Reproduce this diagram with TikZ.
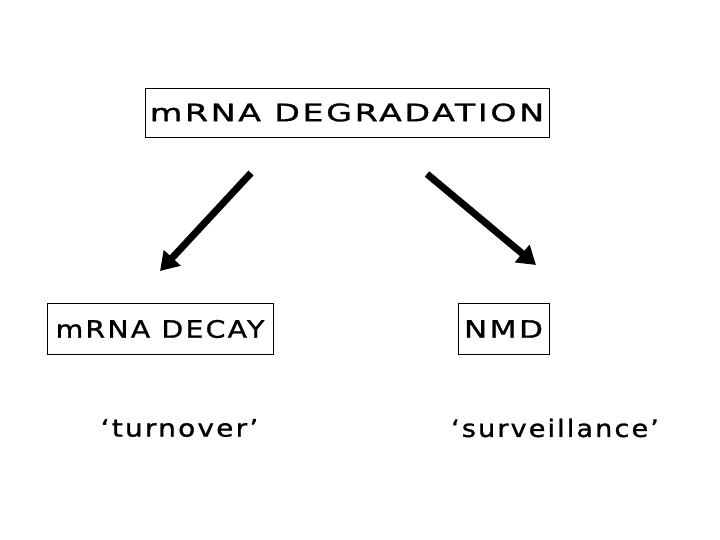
\documentclass[tikz,border=0pt]{standalone}
\usepackage{fontspec}
\setmainfont{DejaVu Sans}[FakeStretch=1.3,LetterSpace=10,FakeBold=1.2]
\usetikzlibrary{arrows.meta}
\newcommand{\xs}[2]{\scalebox{#1}[1]{#2}}
\begin{document}
\begin{tikzpicture}[x=1pt,y=-1pt,
  box/.style={draw,line width=0.8pt,inner sep=0pt,font=\fontsize{24}{28}\selectfont},
  lbl/.style={font=\fontsize{24}{28}\selectfont},
  arr/.style={line width=7pt,-{Triangle[width=22pt,length=18pt]}}]
\useasboundingbox (0,0) rectangle (720,540);
\node[box,minimum width=404pt,minimum height=49pt] (top) at (347,112.5) {\xs{1.07}{mRNA DEGRADATION}};
\node[box,minimum width=226pt,minimum height=51pt] (decay) at (160,329) {\xs{0.91}{mRNA DECAY}};
\node[box,minimum width=91pt,minimum height=51pt] (nmd) at (503.5,329) {NMD};
\node[lbl] (turn) at (179.5,428) {\xs{0.9}{‘turnover’}};
\node[lbl] (surv) at (555,428) {\xs{0.87}{‘surveillance’}};
\coordinate (a1) at (251,173);
\coordinate (a2) at (160,271);
\coordinate (b1) at (427,174);
\coordinate (b2) at (536,265);
\draw[arr] (a1) -- (a2);
\draw[arr] (b1) -- (b2);
\end{tikzpicture}
\end{document}
